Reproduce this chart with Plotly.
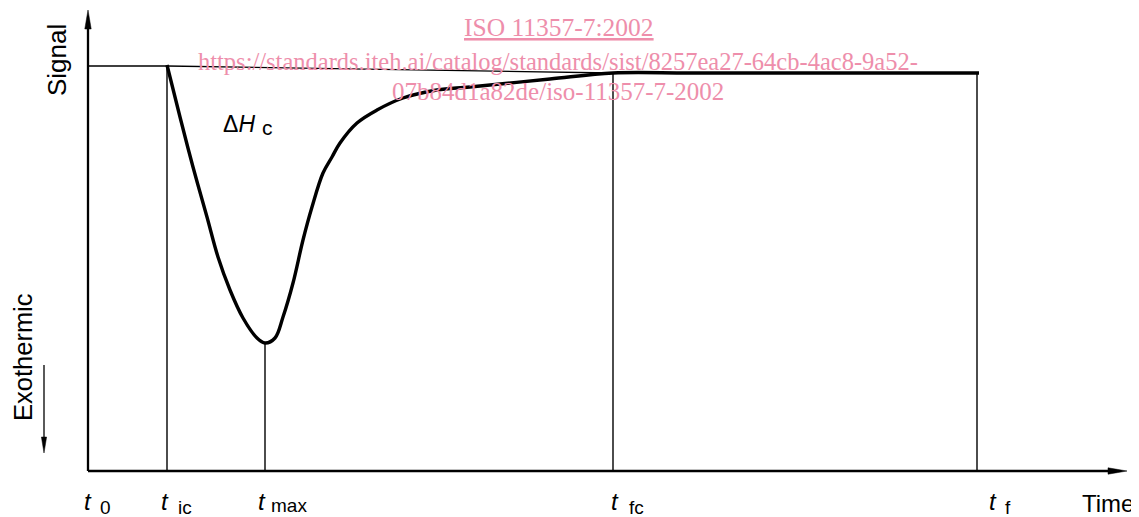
import plotly.graph_objects as go

# Schematic DSC curve (arbitrary time / signal units)
curve_t = [79, 92, 105, 119, 130, 142, 155, 169, 177, 187, 195, 205, 215, 224, 235, 244, 252, 269, 289, 315, 349, 382, 462, 525, 600, 700, 800, 891]
curve_s = [406, 354, 304, 254, 214, 181, 153, 133, 128, 133, 154, 188, 231, 264, 298, 314, 328, 348, 361, 373, 381, 384, 392, 398, 398, 398, 398, 398]
baseline_t = [0, 79, 525]
baseline_s = [405, 405, 398]

t_ic, t_max, t_fc, t_f = 79, 177, 525, 889
s_min = 128
s_end = 398
x_end = 1039
y_end = 461

tick_main = ["t", "t", "t", "t", "t"]
tick_sub = ["0", "ic", "max", "fc", "f"]
tick_pos = [0, t_ic, t_max, t_fc, t_f]

fig = go.Figure()

# baseline (thin)
fig.add_trace(go.Scatter(x=baseline_t, y=baseline_s, mode="lines",
                         line=dict(color="black", width=1.3), hoverinfo="skip"))
# signal curve (thick)
fig.add_trace(go.Scatter(x=curve_t, y=curve_s, mode="lines", line_shape="spline",
                         line=dict(color="black", width=3.4, smoothing=1.0), hoverinfo="skip"))

# vertical guide lines
for xv, yv in [(t_ic, baseline_s[1]), (t_max, s_min), (t_fc, s_end), (t_f, s_end)]:
    fig.add_shape(type="line", x0=xv, x1=xv, y0=0, y1=yv, line=dict(color="black", width=1.4))

# axes
fig.add_shape(type="line", x0=0, x1=0, y0=0, y1=y_end - 10, line=dict(color="black", width=2.3))
fig.add_shape(type="line", x0=0, x1=x_end - 10, y0=0, y1=0, line=dict(color="black", width=2.3))


def arrow_path(tx, ty, dx, dy, length, half):
    # tip at (tx,ty), pointing along (dx,dy) unit direction
    bx, by = tx - dx * length, ty - dy * length
    px, py = -dy * half, dx * half
    return f"M {tx} {ty} L {bx + px} {by + py} L {bx - px} {by - py} Z"


fig.add_shape(type="path", path=arrow_path(0, y_end, 0, 1, 19, 3.2),
              fillcolor="black", line=dict(color="black", width=0.5))
fig.add_shape(type="path", path=arrow_path(x_end, 0, 1, 0, 19, 3.2),
              fillcolor="black", line=dict(color="black", width=0.5))
# exothermic arrow
fig.add_shape(type="line", x0=-44, x1=-44, y0=106, y1=28, line=dict(color="black", width=1.3))
fig.add_shape(type="path", path=arrow_path(-44, 18, 0, -1, 16, 2.6),
              fillcolor="black", line=dict(color="black", width=0.5))

FONT = "Liberation Sans, Arial, sans-serif"
fig.add_annotation(x=-31, y=411, text="Signal", textangle=-90, showarrow=False,
                   font=dict(family=FONT, size=26, color="black"))
fig.add_annotation(x=-65, y=114, text="Exothermic", textangle=-90, showarrow=False,
                   font=dict(family=FONT, size=25.5, color="black"))
fig.add_annotation(x=1020, y=-32, text="Time", showarrow=False,
                   font=dict(family=FONT, size=24, color="black"))
fig.add_annotation(x=151, y=347, text="Δ<i>H</i>", showarrow=False,
                   font=dict(family=FONT, size=23, color="black"))
fig.add_annotation(x=179, y=344, text="c", showarrow=False,
                   font=dict(family=FONT, size=21, color="black"))

t_off = [0, -2, -3, 2, 16]
sub_off = [10, 11, 7, 12, 10]
sub_y = [-36, -36, -34, -36, -36]
for main, sub, xv, to, so, sy in zip(tick_main, tick_sub, tick_pos, t_off, sub_off, sub_y):
    fig.add_annotation(x=xv + to, y=-30, text="<i>" + main + "</i>", showarrow=False,
                       font=dict(family=FONT, size=24, color="black"))
    fig.add_annotation(x=xv + to + so, y=sy, text=sub, showarrow=False, xanchor="left",
                       font=dict(family=FONT, size=19, color="black"))

# watermark
PINK = "#ee8eab"
SERIF = "Liberation Serif, Times New Roman, serif"
fig.add_annotation(x=470.5, y=444, text="<u>ISO 11357-7:2002</u>", showarrow=False,
                   font=dict(family=SERIF, size=25.5, color=PINK))
fig.add_annotation(x=469.5, y=410, text="https://standards.iteh.ai/catalog/standards/sist/8257ea27-64cb-4ac8-9a52-",
                   showarrow=False, font=dict(family=SERIF, size=24.5, color=PINK))
fig.add_annotation(x=470, y=380, text="07b84d1a82de/iso-11357-7-2002", showarrow=False,
                   font=dict(family=SERIF, size=25, color=PINK))

# page has an 8px body margin: size and ranges compensate
fig.update_layout(
    width=1131, height=509,
    margin=dict(l=0, r=0, t=0, b=0),
    paper_bgcolor="white", plot_bgcolor="white",
    showlegend=False,
    xaxis=dict(range=[-80, 1051], visible=False, fixedrange=True),
    yaxis=dict(range=[-46, 463], visible=False, fixedrange=True),
)

fig.write_html("out.html")
